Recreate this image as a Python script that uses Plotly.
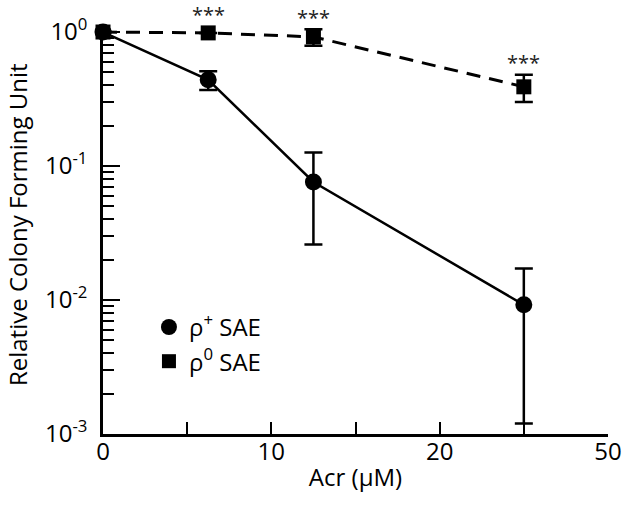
import plotly.graph_objects as go
import numpy as np

# Acr dose (uM) and relative CFU
DOSE = [0, 6.25, 12.5, 25]

RHO_PLUS = [1.0, 0.44, 0.076, 0.0092]
RHO_PLUS_ERR = [0.0, 0.07, 0.05, 0.008]

RHO_ZERO = [1.0, 0.985, 0.92, 0.39]
RHO_ZERO_ERR = [0.0, 0.0, 0.13, 0.09]

STARS_X = [6.25, 12.5, 25]

# the last tick is labelled "50" in the original figure (axis break)
X_TICKS = [0, 10, 20, 30]
X_TICK_TEXT = ["0", "10", "20", "50"]
Y_TICKS = [1e-3, 1e-2, 1e-1, 1e0]
Y_TICK_TEXT = ["10<sup>-3</sup>", "10<sup>-2</sup>", "10<sup>-1</sup>", "10<sup>0</sup>"]

FONT = "Open Sans"
LABELS_FONT_SIZE = 24
TICKS_FONT_SIZE = 24

fig = go.Figure()

fig.add_trace(go.Scatter(
    x=DOSE, y=RHO_PLUS,
    mode="lines+markers",
    line=dict(color="black", width=2.5),
    marker=dict(symbol="circle", size=17, color="black"),
    error_y=dict(type="data", array=RHO_PLUS_ERR, color="black", thickness=2.5, width=9),
    cliponaxis=False,
    showlegend=False,
))

fig.add_trace(go.Scatter(
    x=DOSE, y=RHO_ZERO,
    mode="lines+markers",
    line=dict(color="black", width=3, dash="14px,9px"),
    marker=dict(symbol="square", size=15, color="black"),
    error_y=dict(type="data", array=RHO_ZERO_ERR, color="black", thickness=2.5, width=9),
    cliponaxis=False,
    showlegend=False,
))

# legend-only entries (markers without lines)
for name, sym in [("ρ<sup>+</sup> SAE", "circle"), ("ρ<sup>0</sup> SAE", "square")]:
    fig.add_trace(go.Scatter(
        x=[None], y=[None], mode="markers", name=name,
        marker=dict(symbol=sym, size=16 if sym == "circle" else 14, color="black"),
    ))

# significance stars above the rho0 points (clear the cap, or the marker if no bar)
for x in STARS_X:
    i = DOSE.index(x)
    err = RHO_ZERO_ERR[i]
    top = RHO_ZERO[i] + err
    fig.add_annotation(
        x=x, y=np.log10(top), xref="x", yref="y",
        text="***", showarrow=False, yanchor="middle",
        yshift=12 if err > 0 else 18,
        font=dict(family=FONT, size=20, color="#222"),
    )

# y title as annotation so it can sit where the original has it
fig.add_annotation(
    text="Relative Colony Forming Unit", textangle=-90,
    xref="paper", yref="paper", x=-0.168, y=0.515,
    xanchor="center", yanchor="middle", showarrow=False,
    font=dict(family=FONT, size=LABELS_FONT_SIZE, color="black"),
)

fig.update_layout(
    width=624, height=506,
    margin=dict(l=103, r=16, t=28, b=72),
    paper_bgcolor="white", plot_bgcolor="white",
    font=dict(family=FONT, size=TICKS_FONT_SIZE, color="black"),
    legend=dict(
        x=0.091, y=0.318, xanchor="left", yanchor="top",
        bgcolor="rgba(0,0,0,0)", font=dict(size=LABELS_FONT_SIZE),
        itemwidth=30, tracegroupgap=0,
    ),
)

fig.update_xaxes(
    range=[0, 30],
    tickvals=X_TICKS, ticktext=X_TICK_TEXT,
    ticks="inside", ticklen=12, tickwidth=2, tickcolor="black",
    ticklabelstandoff=-6,
    minor=dict(ticks="inside", ticklen=12, tickwidth=2, tickcolor="black", dtick=5, showgrid=False),
    showline=True, linecolor="black", linewidth=2.5,
    showgrid=False, zeroline=False, automargin=False,
    title=dict(text="Acr (μM)", font=dict(size=LABELS_FONT_SIZE), standoff=4),
)

# range top a hair above 1 so the stars over the 1.0-level bars stay visible
fig.update_yaxes(
    type="log", range=[-3, 0.03],
    tickvals=Y_TICKS, ticktext=Y_TICK_TEXT,
    ticks="inside", ticklen=17, tickwidth=2, tickcolor="black",
    ticklabelstandoff=8,
    minor=dict(ticks="inside", ticklen=11, tickwidth=2, tickcolor="black", dtick="D1", showgrid=False),
    showline=True, linecolor="black", linewidth=2.5,
    showgrid=False, zeroline=False, automargin=False,
)

# drop the default 8px body margin so the figure sits at the window origin
fig.write_html(
    "out.html",
    config={"displayModeBar": False},
    post_script="document.body.style.margin='0';",
)
